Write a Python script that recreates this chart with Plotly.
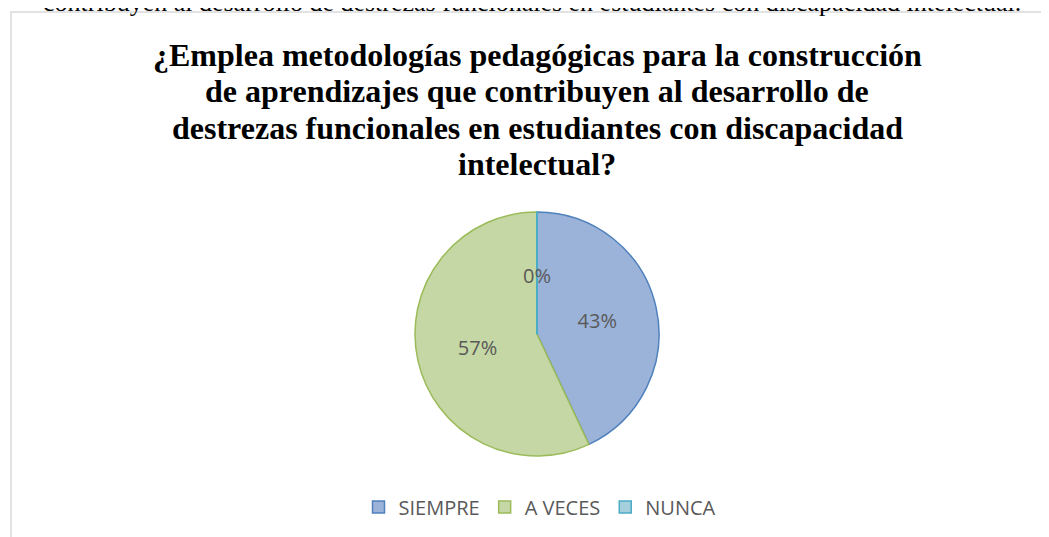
import plotly.graph_objects as go

categories = ["SIEMPRE", "A VECES", "NUNCA"]
values = [43, 57, 0]
fill_colors = ["#9CB3D9", "#C4D7A4", "#A5CFDD"]
line_colors = ["#4F81BD", "#9BBB59", "#4BACC6"]

title_lines = [
    "¿Emplea metodologías pedagógicas para la construcción",
    "de aprendizajes que contribuyen al desarrollo de",
    "destrezas funcionales en estudiantes con discapacidad",
    "intelectual?",
]
top_text = "contribuyen al desarrollo de destrezas funcionales en estudiantes con discapacidad intelectual."

# figure drawn inside the page's default 8px body margin
W, H = 1041, 529
cx, cy, r = 529, 326, 122

total = sum(values)
pct_text = [f"{round(v / total * 100)}%" for v in values]
label_font = dict(family="Open Sans, Liberation Sans, sans-serif", size=20, color="#595959")

fig = go.Figure()
fig.add_trace(go.Pie(
    labels=categories,
    values=values,
    sort=False,
    direction="clockwise",
    rotation=0,
    text=pct_text,
    textinfo="text",
    textposition="inside",
    insidetextorientation="horizontal",
    textfont=label_font,
    marker=dict(colors=fill_colors, line=dict(color=line_colors, width=1.5)),
    domain=dict(x=[(cx - r) / W, (cx + r) / W], y=[1 - (cy + r) / H, 1 - (cy - r) / H]),
    hoverinfo="label+percent",
    showlegend=True,
))

title_centers = [47, 83, 120, 156]
annotations = []
for line, yc in zip(title_lines, title_centers):
    annotations.append(dict(text="<b>" + line + "</b>", x=cx / W, y=1 - yc / H,
                            xref="paper", yref="paper", xanchor="center", yanchor="middle",
                            showarrow=False,
                            font=dict(family="Liberation Serif, Times New Roman, serif", size=32, color="#000000")))
annotations.append(dict(text=top_text, x=524 / W, y=1 + 5 / H, xref="paper", yref="paper",
                        xanchor="center", yanchor="middle", showarrow=False,
                        font=dict(family="Liberation Serif, Times New Roman, serif", size=26, color="#000000")))
# label for zero-valued slice (plotly hides zero slices)
for cat, v, t in zip(categories, values, pct_text):
    if v == 0:
        annotations.append(dict(text=t, x=cx / W, y=1 - 267 / H, xref="paper", yref="paper",
                                showarrow=False, xanchor="center", yanchor="middle", font=label_font))

fig.update_layout(
    width=W, height=H,
    margin=dict(l=0, r=0, t=0, b=0),
    paper_bgcolor="white",
    plot_bgcolor="white",
    annotations=annotations,
    shapes=[
        dict(type="rect", xref="paper", yref="paper", x0=3 / W, x1=1.02, y0=-0.05, y1=1 - 4 / H,
             line=dict(color="#D9D9D9", width=1.5), fillcolor="rgba(0,0,0,0)", layer="below"),
        dict(type="line", xref="paper", yref="paper", x0=cx / W, x1=cx / W, y0=1 - (cy - r) / H, y1=1 - cy / H,
             line=dict(color=line_colors[2], width=2)),
    ],
    legend=dict(orientation="h", x=532 / W, xanchor="center", y=1 - 499 / H, yanchor="middle",
                font=dict(family="Open Sans, Liberation Sans, sans-serif", size=20, color="#595959"),
                itemwidth=30, traceorder="normal"),
)

fig.write_html("out.html")
